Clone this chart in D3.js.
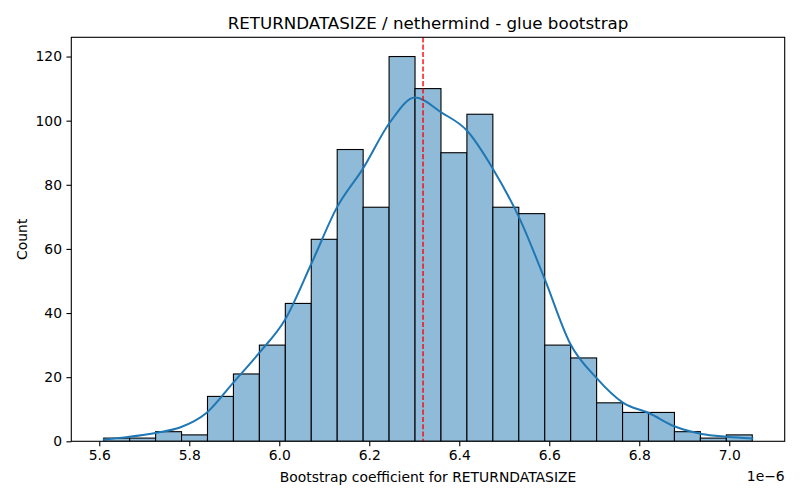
<!DOCTYPE html>
<html>
<head>
<meta charset="utf-8">
<script src="https://cdn.jsdelivr.net/npm/d3@7"></script>
<style>
	body { margin: 0; background: #fff; }
	text { font-family: "DejaVu Sans", sans-serif; fill: #000; }
</style>
</head>
<body>
<script>
// histogram of bootstrap coefficients (values in units of 1e-6)
var binStart = 5.6099;
var binWidth = 0.05765;
var counts = [1, 1, 3, 2, 14, 21, 30, 43, 63, 91, 73, 120, 110, 90, 102, 73, 71, 30, 26, 12, 9, 9, 3, 1, 2];

// kde curve (scaled to counts)
var kdeX = [5.610, 5.6600, 5.7276, 5.7793, 5.8387, 5.8978, 5.9549, 6.0127, 6.072, 6.1276, 6.1867, 6.246, 6.3016,
	6.3609, 6.4164, 6.4756, 6.5349, 6.5904, 6.646, 6.7053, 6.7644, 6.8222, 6.8793, 6.9387, 6.9942, 7.0512];
var kdeY = [0.5, 1.3, 2.7, 4.3, 8.9, 18.3, 27.5, 37.9, 55.6, 72.8, 85.2, 99.5, 107.2,
	102.5, 97.0, 84.8, 69.2, 50.4, 30.6, 19.7, 12.0, 8.75, 4.6, 2.3, 1.45, 0.9];

var meanValue = 6.3195;

var xTicks = [5.6, 5.8, 6.0, 6.2, 6.4, 6.6, 6.8, 7.0];
var yTicks = [0, 20, 40, 60, 80, 100, 120];

var title = "RETURNDATASIZE / nethermind - glue bootstrap";
var xLabel = "Bootstrap coefficient for RETURNDATASIZE";
var yLabel = "Count";
var offsetLabel = "1e\u22126";

var W = 800, H = 500;
var axL = 71.3, axR = 784.7, axT = 37.3, axB = 441.3;

var bins = counts.map(function(c, i) {
	return { x0: binStart + i * binWidth, x1: binStart + (i + 1) * binWidth, n: c };
});

var lo = bins[0].x0, hi = bins[bins.length - 1].x1;
var pad = (hi - lo) * 0.05;

var x = d3.scaleLinear().domain([lo - pad, hi + pad]).range([axL, axR]);
var y = d3.scaleLinear().domain([0, d3.max(counts) * 1.05]).range([axB, axT]);

var svg = d3.select("body").append("svg")
	.attr("width", W)
	.attr("height", H);

svg.append("defs").append("clipPath").attr("id", "plot")
	.append("rect")
	.attr("x", axL).attr("y", axT)
	.attr("width", axR - axL).attr("height", axB - axT);

var plot = svg.append("g").attr("clip-path", "url(#plot)");

// bars
plot.selectAll(".bar")
	.data(bins)
	.enter().append("rect")
	.attr("class", "bar")
	.attr("x", function(d) { return x(d.x0); })
	.attr("y", function(d) { return y(d.n); })
	.attr("width", function(d) { return x(d.x1) - x(d.x0); })
	.attr("height", function(d) { return y(0) - y(d.n); })
	.style("fill", "#8fbbd9")
	.style("stroke", "#000")
	.style("stroke-width", "1.1px");

// kde line
var line = d3.line()
	.x(function(d) { return x(d[0]); })
	.y(function(d) { return y(d[1]); })
	.curve(d3.curveMonotoneX);

plot.append("path")
	.datum(d3.zip(kdeX, kdeY))
	.attr("d", line)
	.style("fill", "none")
	.style("stroke", "#1f77b4")
	.style("stroke-width", "2px")
	.style("stroke-linecap", "square");

// mean line
plot.append("line")
	.attr("x1", x(meanValue)).attr("x2", x(meanValue))
	.attr("y1", axT).attr("y2", axB)
	.style("stroke", "#ff0000")
	.style("stroke-width", "1.39px")
	.style("stroke-dasharray", "5.1,2.2");

// axes
var xAxis = svg.append("g")
	.attr("transform", "translate(0," + axB + ")")
	.call(d3.axisBottom(x).tickValues(xTicks).tickSize(4.86).tickPadding(4.4)
		.tickFormat(function(d) { return d.toFixed(1); }));

var yAxis = svg.append("g")
	.attr("transform", "translate(" + axL + ",0)")
	.call(d3.axisLeft(y).tickValues(yTicks).tickSize(4.86).tickPadding(4.4)
		.tickFormat(d3.format("d")));

[xAxis, yAxis].forEach(function(a) {
	a.select(".domain").remove();
	a.selectAll("line").style("stroke", "#000").style("stroke-width", "1.1px");
	a.selectAll("text").style("font-size", "13.9px").attr("fill", "#000");
});

// frame
svg.append("rect")
	.attr("x", axL).attr("y", axT)
	.attr("width", axR - axL).attr("height", axB - axT)
	.style("fill", "none")
	.style("stroke", "#000")
	.style("stroke-width", "1.1px");

svg.append("text")
	.attr("x", (axL + axR) / 2)
	.attr("y", 29.3)
	.attr("text-anchor", "middle")
	.style("font-size", "16.7px")
	.text(title);

svg.append("text")
	.attr("x", (axL + axR) / 2)
	.attr("y", 481.7)
	.attr("text-anchor", "middle")
	.style("font-size", "13.9px")
	.text(xLabel);

svg.append("text")
	.attr("transform", "translate(26.5," + (axT + axB) / 2 + ") rotate(-90)")
	.attr("text-anchor", "middle")
	.style("font-size", "13.9px")
	.text(yLabel);

svg.append("text")
	.attr("x", axR)
	.attr("y", 480.5)
	.attr("text-anchor", "end")
	.style("font-size", "13.9px")
	.text(offsetLabel);
</script>
</body>
</html>
